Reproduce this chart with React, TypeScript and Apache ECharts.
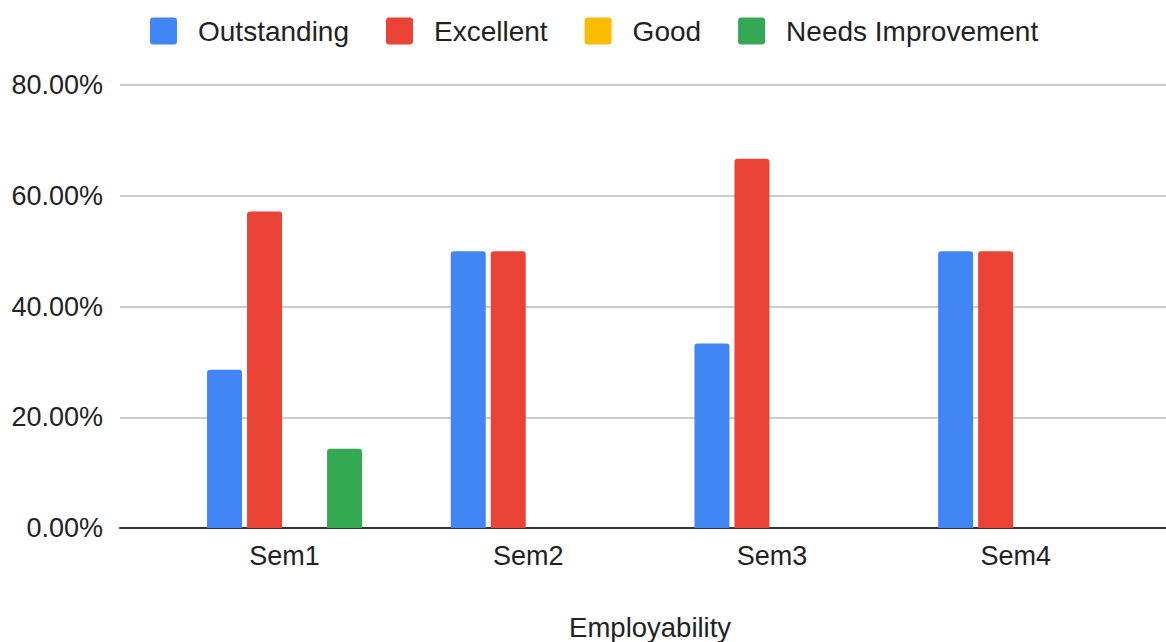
import React, { useEffect, useRef } from "react";
import * as echarts from "echarts";

const categories = ["Sem1", "Sem2", "Sem3", "Sem4"];
const outstanding = [28.57, 50, 33.33, 50];
const excellent = [57.14, 50, 66.67, 50];
const good = [0, 0, 0, 0];
const needsImprovement = [14.29, 0, 0, 0];
const seriesNames = ["Outstanding", "Excellent", "Good", "Needs Improvement"];
const colors = ["#4285F4", "#EA4335", "#FBBC04", "#34A853"];
const yTicks = [0, 20, 40, 60, 80];
const axisTitle = "Employability";

const FONT = "'Liberation Sans', Arial, sans-serif";
const TXT = "#222";
const SQUARE = "path://M3,0 H24 Q27,0 27,3 V24 Q27,27 24,27 H3 Q0,27 0,24 V3 Q0,0 3,0 Z";

export default function App() {
  const ref = useRef<HTMLDivElement>(null);
  useEffect(() => {
    if (!ref.current) return;
    const chart = echarts.init(ref.current, undefined, { renderer: "svg" });
    const values = [outstanding, excellent, good, needsImprovement];
    const yMin = yTicks[0];
    const yMax = yTicks[yTicks.length - 1];
    const yInterval = yTicks[1] - yTicks[0];
    chart.setOption({
      animation: false,
      backgroundColor: "#fff",
      textStyle: { fontFamily: FONT },
      legend: {
        left: 145,
        top: 12,
        itemWidth: 27,
        itemHeight: 27,
        itemGap: 37,
        icon: SQUARE,
        textStyle: { fontSize: 28, color: TXT, fontFamily: FONT, padding: [0, 0, 0, 16] },
        data: seriesNames,
      },
      grid: [
        { left: 120, right: 0, top: 85, bottom: 114, outerBoundsMode: "none" },
        { left: 162.7, right: 28.5, top: 85, bottom: 114, outerBoundsMode: "none" },
      ],
      xAxis: [
        {
          type: "category",
          gridIndex: 0,
          data: categories,
          axisLine: { show: true, lineStyle: { color: "#333", width: 2 } },
          axisTick: { show: false },
          axisLabel: { show: false },
          splitLine: { show: false },
        },
        {
          type: "category",
          gridIndex: 1,
          data: categories,
          axisLine: { show: false },
          axisTick: { show: false },
          axisLabel: { fontSize: 27, color: TXT, fontFamily: FONT, margin: 14 },
          name: axisTitle,
          nameLocation: "middle",
          nameGap: 85,
          nameTextStyle: { fontSize: 27.5, color: TXT, fontFamily: FONT },
        },
      ],
      yAxis: [
        {
          type: "value",
          gridIndex: 0,
          min: yMin,
          max: yMax,
          interval: yInterval,
          axisLine: { show: false },
          axisTick: { show: false },
          axisLabel: {
            fontSize: 27,
            color: TXT,
            fontFamily: FONT,
            margin: 17,
            formatter: (v: number) => v.toFixed(2) + "%",
          },
          splitLine: { lineStyle: { color: "#ccc", width: 2 } },
        },
        {
          type: "value",
          gridIndex: 1,
          min: yMin,
          max: yMax,
          interval: yInterval,
          show: false,
          splitLine: { show: false },
        },
      ],
      series: seriesNames.map((name, i) => ({
        name,
        type: "bar",
        xAxisIndex: 1,
        yAxisIndex: 1,
        data: values[i],
        barWidth: 35,
        barGap: "14.3%",
        itemStyle: { color: colors[i], borderRadius: [3, 3, 0, 0] },
      })),
    });
    return () => chart.dispose();
  }, []);
  return (
    <div
      ref={ref}
      style={{ position: "fixed", left: 0, top: 0, width: 1166, height: 642 }}
    />
  );
}
